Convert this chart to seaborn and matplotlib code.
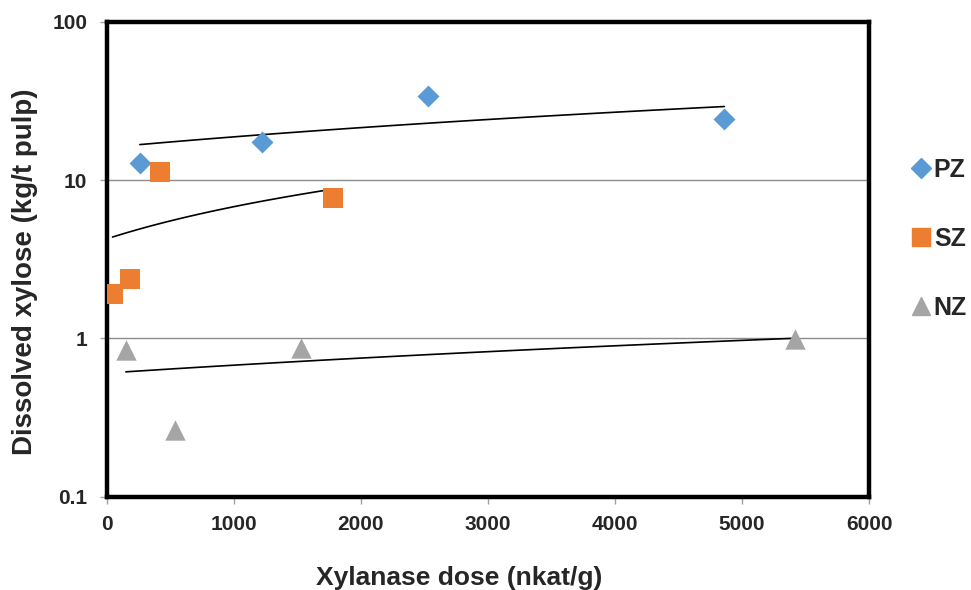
import numpy as np
import pandas as pd
import seaborn as sns
import matplotlib.pyplot as plt

# Xylanase dose (nkat/g) and dissolved xylose (kg/t pulp) per series
pz_dose = [260, 1220, 2530, 4860]
pz_xyl = [12.8, 17.4, 33.8, 24.2]
sz_dose = [45, 180, 417, 1780]
sz_xyl = [1.92, 2.36, 11.2, 7.7]
nz_dose = [150, 540, 1530, 5420]
nz_xyl = [0.85, 0.265, 0.875, 0.99]

series = ["PZ", "SZ", "NZ"]
colors = {"PZ": "#5B9BD5", "SZ": "#ED7D31", "NZ": "#A5A5A5"}
markers = {"PZ": "D", "SZ": "s", "NZ": "^"}
msize = {"PZ": 125, "SZ": 215, "NZ": 215}

df = pd.concat([
    pd.DataFrame({"dose": pz_dose, "xylose": pz_xyl, "series": "PZ"}),
    pd.DataFrame({"dose": sz_dose, "xylose": sz_xyl, "series": "SZ"}),
    pd.DataFrame({"dose": nz_dose, "xylose": nz_xyl, "series": "NZ"}),
], ignore_index=True)

sns.set_style("white")
plt.rcParams["font.family"] = ["Liberation Sans", "DejaVu Sans"]
plt.rcParams["font.weight"] = "bold"

fig = plt.figure(figsize=(9.71, 5.9), dpi=100)
ax = fig.add_axes([0.110, 0.158, 0.785, 0.805])
ax.set_yscale("log")

# Gridlines at decades
for v in [1, 10]:
    ax.axhline(v, color="#8c8c8c", lw=1.0, zorder=0)

# Linear trendlines (fit in data space, shown on log axis)
for s in series:
    sub = df[df["series"] == s]
    sns.regplot(data=sub, x="dose", y="xylose", scatter=False, ci=None,
                truncate=True, color="black", line_kws={"lw": 1.2}, ax=ax)

for s in series:
    sub = df[df["series"] == s]
    sns.scatterplot(data=sub, x="dose", y="xylose", color=colors[s],
                    marker=markers[s], s=msize[s], linewidth=0,
                    legend=False, ax=ax, zorder=3)

ax.set_xlim(0, 6000)
ax.set_ylim(0.1, 100)
ax.set_xticks(range(0, 6001, 1000))
ax.set_yticks([0.1, 1, 10, 100])
ax.set_yticklabels(["0.1", "1", "10", "100"])
ax.minorticks_off()
ax.tick_params(axis="both", labelsize=15, length=5, width=1, color="#a0a0a0",
               direction="out", bottom=True, left=True)
ax.tick_params(axis="x", pad=8)
ax.tick_params(axis="y", pad=9)
for lab in ax.get_xticklabels() + ax.get_yticklabels():
    lab.set_fontweight("bold")

for sp in ax.spines.values():
    sp.set_visible(True)
    sp.set_color("black")
    sp.set_linewidth(3.2)

ax.set_xlabel("Xylanase dose (nkat/g)", fontsize=19, fontweight="bold")
ax.xaxis.set_label_coords(0.462, -0.145)
ax.set_ylabel("Dissolved xylose (kg/t pulp)", fontsize=20, fontweight="bold")
ax.yaxis.set_label_coords(-0.09, 0.474)

handles = [plt.Line2D([], [], ls="", marker=markers[s], color=colors[s],
                      markersize=10 if s == "PZ" else 12.5, label=s) for s in series]
fig.legend(handles=handles, loc="center left", bbox_to_anchor=(0.936, 0.595),
           frameon=False, prop={"size": 18, "weight": "bold"},
           handletextpad=0.0, labelspacing=1.8, handlelength=1.0,
           borderpad=0, borderaxespad=0)

plt.savefig("out.png", dpi=100)
